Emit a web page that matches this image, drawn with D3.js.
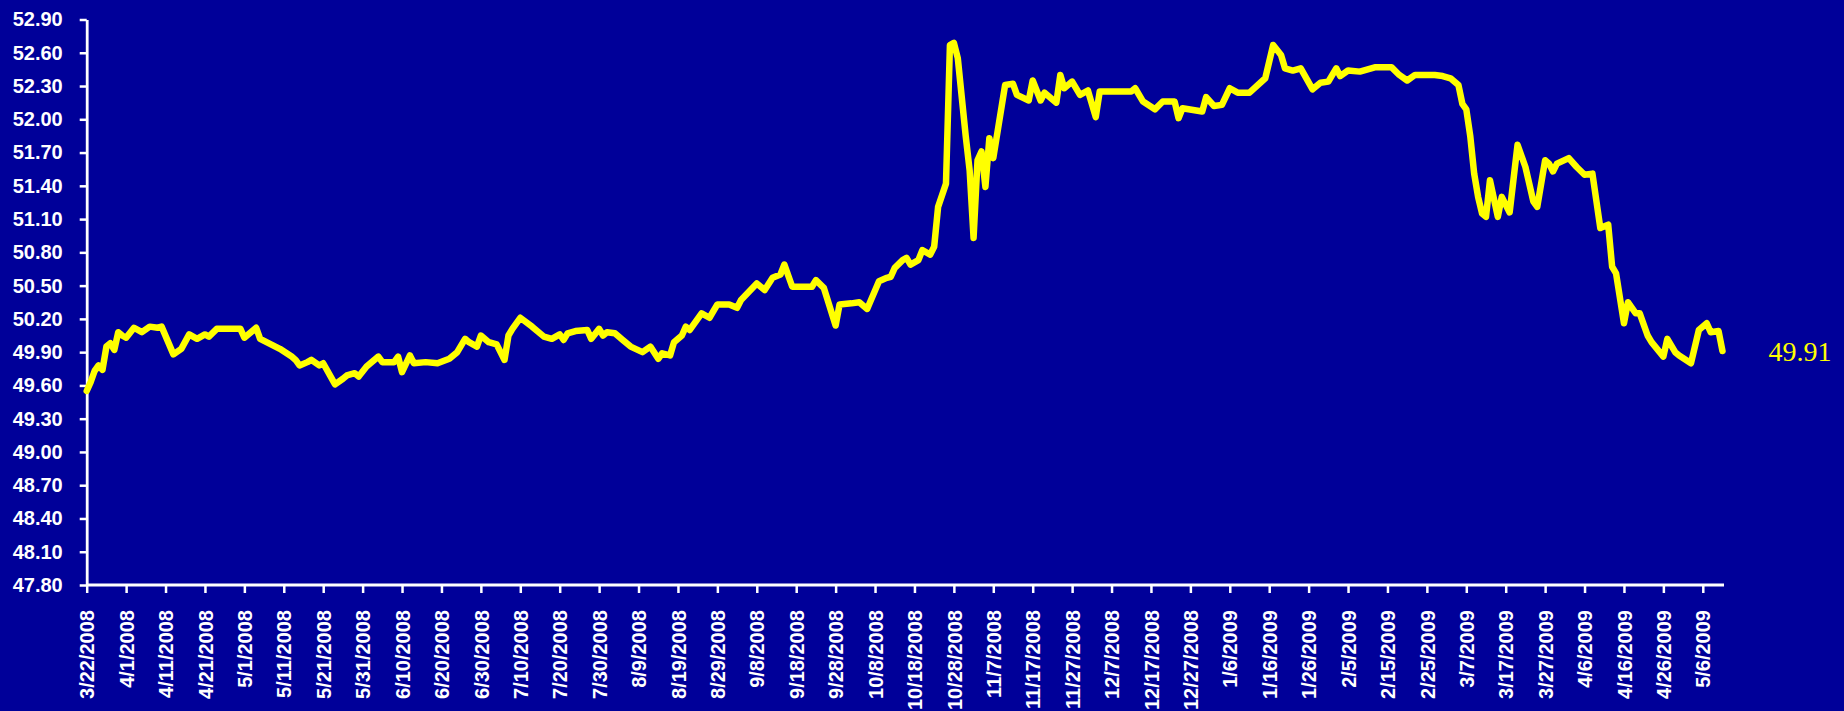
<!DOCTYPE html>
<html>
<head>
<meta charset="utf-8">
<script src="https://cdn.jsdelivr.net/npm/d3@7"></script>
<style>
  html, body { margin: 0; padding: 0; background: #000099; }
  svg { display: block; }
</style>
</head>
<body>
<svg id="chart" width="1844" height="711"></svg>
<script>
// Daily rate, 22 Mar 2008 – 11 May 2009
const dates = [
  "3/22/2008","3/23/2008","3/24/2008","3/25/2008","3/26/2008","3/27/2008","3/28/2008","3/29/2008","3/30/2008","3/31/2008",
  "4/1/2008","4/3/2008","4/5/2008","4/7/2008","4/9/2008","4/10/2008","4/13/2008","4/15/2008","4/17/2008","4/19/2008",
  "4/21/2008","4/22/2008","4/24/2008","4/30/2008","5/1/2008","5/4/2008","5/5/2008","5/10/2008","5/13/2008","5/14/2008",
  "5/15/2008","5/17/2008","5/18/2008","5/20/2008","5/21/2008","5/24/2008","5/26/2008","5/27/2008","5/29/2008","5/30/2008",
  "6/1/2008","6/4/2008","6/5/2008","6/8/2008","6/9/2008","6/10/2008","6/12/2008","6/13/2008","6/16/2008","6/19/2008",
  "6/22/2008","6/24/2008","6/26/2008","6/27/2008","6/29/2008","6/30/2008","7/2/2008","7/4/2008","7/6/2008","7/7/2008",
  "7/8/2008","7/10/2008","7/13/2008","7/16/2008","7/18/2008","7/20/2008","7/21/2008","7/22/2008","7/24/2008","7/27/2008",
  "7/28/2008","7/30/2008","7/31/2008","8/1/2008","8/3/2008","8/5/2008","8/7/2008","8/10/2008","8/12/2008","8/14/2008",
  "8/15/2008","8/17/2008","8/18/2008","8/20/2008","8/21/2008","8/22/2008","8/25/2008","8/27/2008","8/29/2008","9/1/2008",
  "9/3/2008","9/4/2008","9/8/2008","9/10/2008","9/12/2008","9/14/2008","9/15/2008","9/17/2008","9/22/2008","9/23/2008",
  "9/25/2008","9/28/2008","9/29/2008","10/2/2008","10/4/2008","10/6/2008","10/9/2008","10/11/2008","10/12/2008","10/13/2008",
  "10/15/2008","10/16/2008","10/17/2008","10/19/2008","10/20/2008","10/22/2008","10/23/2008","10/24/2008","10/26/2008","10/27/2008",
  "10/28/2008","10/29/2008","10/31/2008","11/1/2008","11/2/2008","11/3/2008","11/4/2008","11/5/2008","11/6/2008","11/7/2008",
  "11/10/2008","11/12/2008","11/13/2008","11/16/2008","11/17/2008","11/19/2008","11/20/2008","11/23/2008","11/24/2008","11/25/2008",
  "11/27/2008","11/29/2008","12/1/2008","12/3/2008","12/4/2008","12/12/2008","12/13/2008","12/15/2008","12/18/2008","12/20/2008",
  "12/23/2008","12/24/2008","12/25/2008","12/30/2008","12/31/2008","1/2/2009","1/4/2009","1/6/2009","1/8/2009","1/11/2009",
  "1/15/2009","1/17/2009","1/19/2009","1/20/2009","1/22/2009","1/24/2009","1/27/2009","1/29/2009","1/31/2009","2/2/2009",
  "2/3/2009","2/5/2009","2/8/2009","2/12/2009","2/16/2009","2/18/2009","2/20/2009","2/22/2009","2/27/2009","3/1/2009",
  "3/3/2009","3/5/2009","3/6/2009","3/7/2009","3/8/2009","3/9/2009","3/10/2009","3/11/2009","3/12/2009","3/13/2009",
  "3/15/2009","3/16/2009","3/17/2009","3/18/2009","3/20/2009","3/22/2009","3/24/2009","3/25/2009","3/27/2009","3/28/2009",
  "3/29/2009","3/30/2009","4/2/2009","4/4/2009","4/6/2009","4/8/2009","4/10/2009","4/12/2009","4/13/2009","4/14/2009",
  "4/16/2009","4/17/2009","4/19/2009","4/20/2009","4/22/2009","4/23/2009","4/26/2009","4/27/2009","4/29/2009","4/30/2009",
  "5/3/2009","5/5/2009","5/7/2009","5/8/2009","5/10/2009","5/11/2009"
];

const values = [
  49.55,49.63,49.73,49.78,49.74,49.95,49.98,49.92,50.08,50.05,
  50.03,50.12,50.08,50.13,50.12,50.13,49.88,49.93,50.06,50.02,
  50.06,50.04,50.11,50.11,50.03,50.12,50.02,49.93,49.86,49.83,
  49.78,49.81,49.83,49.78,49.80,49.61,49.66,49.69,49.71,49.68,
  49.77,49.86,49.81,49.81,49.86,49.72,49.87,49.80,49.81,49.80,
  49.84,49.90,50.02,49.99,49.95,50.05,49.99,49.97,49.83,50.05,
  50.11,50.21,50.13,50.04,50.02,50.06,50.01,50.07,50.09,50.10,
  50.02,50.11,50.05,50.08,50.07,50.01,49.95,49.90,49.95,49.84,
  49.89,49.87,49.99,50.05,50.13,50.10,50.25,50.21,50.33,50.33,
  50.30,50.37,50.52,50.46,50.57,50.60,50.69,50.49,50.49,50.55,
  50.48,50.14,50.33,50.34,50.35,50.29,50.54,50.57,50.58,50.66,
  50.73,50.75,50.69,50.73,50.82,50.78,50.85,51.21,51.42,52.67,
  52.69,52.55,51.85,51.54,50.93,51.63,51.71,51.39,51.83,51.65,
  52.31,52.32,52.22,52.17,52.35,52.17,52.24,52.15,52.40,52.28,
  52.34,52.22,52.26,52.02,52.25,52.25,52.28,52.16,52.09,52.16,
  52.16,52.01,52.10,52.07,52.20,52.12,52.13,52.28,52.24,52.24,
  52.37,52.67,52.58,52.46,52.44,52.46,52.27,52.33,52.34,52.46,
  52.39,52.44,52.43,52.47,52.47,52.40,52.35,52.40,52.40,52.39,
  52.37,52.31,52.14,52.09,51.85,51.51,51.30,51.15,51.12,51.45,
  51.12,51.30,51.23,51.16,51.77,51.57,51.26,51.21,51.63,51.60,
  51.53,51.60,51.65,51.57,51.50,51.51,51.02,51.05,50.67,50.61,
  50.16,50.35,50.25,50.25,50.05,49.99,49.86,50.02,49.90,49.87,
  49.80,50.10,50.16,50.08,50.09,49.91
];

const xTickLabels = [
  "3/22/2008","4/1/2008","4/11/2008","4/21/2008","5/1/2008","5/11/2008","5/21/2008","5/31/2008",
  "6/10/2008","6/20/2008","6/30/2008","7/10/2008","7/20/2008","7/30/2008","8/9/2008","8/19/2008",
  "8/29/2008","9/8/2008","9/18/2008","9/28/2008","10/8/2008","10/18/2008","10/28/2008","11/7/2008",
  "11/17/2008","11/27/2008","12/7/2008","12/17/2008","12/27/2008","1/6/2009","1/16/2009","1/26/2009",
  "2/5/2009","2/15/2009","2/25/2009","3/7/2009","3/17/2009","3/27/2009","4/6/2009","4/16/2009",
  "4/26/2009","5/6/2009"
];

const yTicks = [47.8,48.1,48.4,48.7,49.0,49.3,49.6,49.9,50.2,50.5,50.8,51.1,51.4,51.7,52.0,52.3,52.6,52.9];

const parse = d3.timeParse("%m/%d/%Y");
const fmt = d3.timeFormat("%-m/%-d/%Y");
const series = dates.map((d, i) => ({ date: parse(d), value: values[i] }));
const tickDates = xTickLabels.map(parse);

const svg = d3.select("#chart");
const W = 1844, H = 711;
svg.append("rect").attr("width", W).attr("height", H).attr("fill", "#000099");

const x = d3.scaleTime()
  .domain([series[0].date, series[series.length - 1].date])
  .range([86.7, 1722.5]);

const y = d3.scaleLinear()
  .domain([47.8, 52.9])
  .range([585, 19.5]);

const labelFont = "'Liberation Sans', Arial, sans-serif";

// y axis
const yAxis = svg.append("g")
  .attr("transform", `translate(${x.range()[0]},0)`)
  .call(d3.axisLeft(y).tickValues(yTicks).tickSize(7).tickSizeOuter(0)
    .tickPadding(17).tickFormat(d3.format(".2f")));

// x axis
const xAxis = svg.append("g")
  .attr("transform", `translate(0,${y.range()[0]})`)
  .call(d3.axisBottom(x).tickValues(tickDates).tickSize(8).tickSizeOuter(0).tickFormat(fmt));

xAxis.select(".domain").attr("d", `M${x.range()[0]},0H1724`);

[yAxis, xAxis].forEach(g => {
  g.select(".domain").attr("stroke", "#ffffff").attr("stroke-width", 2.8);
  g.selectAll(".tick line").attr("stroke", "#ffffff").attr("stroke-width", 2.5);
  g.selectAll(".tick text")
    .attr("fill", "#ffffff")
    .attr("font-family", labelFont)
    .attr("font-weight", "bold")
    .attr("font-size", 20);
});

xAxis.selectAll(".tick text")
  .attr("transform", "rotate(-90)")
  .attr("text-anchor", "end")
  .attr("x", -25)
  .attr("y", 0)
  .attr("dy", "0.36em");

// rate line
const line = d3.line()
  .x(d => x(d.date))
  .y(d => y(d.value));

svg.append("path")
  .datum(series)
  .attr("fill", "none")
  .attr("stroke", "#ffff00")
  .attr("stroke-width", 6.5)
  .attr("stroke-linejoin", "round")
  .attr("stroke-linecap", "round")
  .attr("d", line);

// latest value label
const last = series[series.length - 1];
svg.append("text")
  .attr("x", x(last.date) + 46)
  .attr("y", y(last.value))
  .attr("dy", "0.36em")
  .attr("fill", "#ffff00")
  .attr("font-family", "'Liberation Serif', 'Times New Roman', serif")
  .attr("font-size", 28)
  .text(d3.format(".2f")(last.value));
</script>
</body>
</html>
